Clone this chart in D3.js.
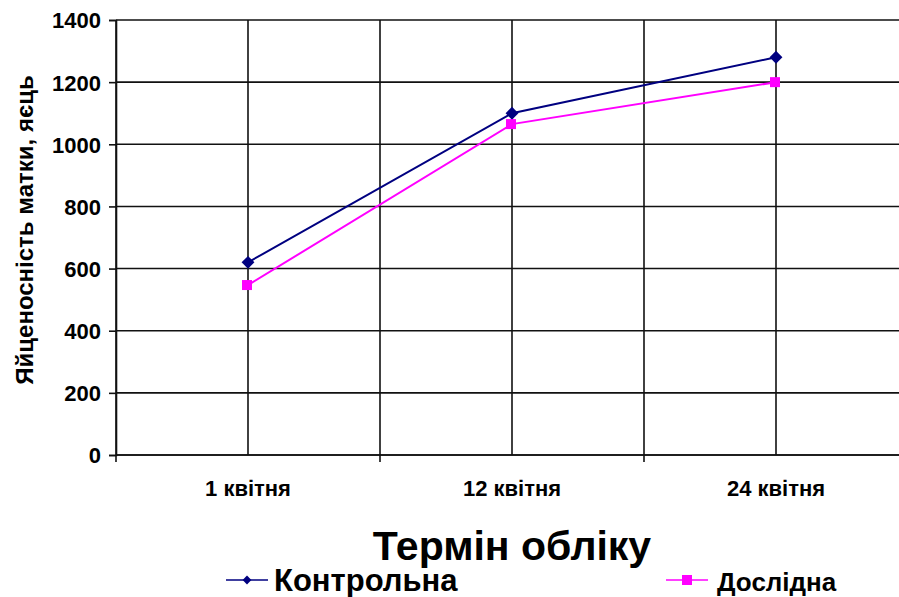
<!DOCTYPE html>
<html>
<head>
<meta charset="utf-8">
<script src="https://cdn.jsdelivr.net/npm/d3@7"></script>
<style>
  body { margin: 0; background: #fff; }
  svg { font-family: Arial, "Liberation Sans", sans-serif; font-weight: bold; }
</style>
</head>
<body>
<div id="chart"></div>
<script>
// Data
var categories = ["1 квітня", "12 квітня", "24 квітня"];
var controlValues = [620, 1100, 1280];
var testValues = [547, 1065, 1200];
var seriesNames = ["Контрольна", "Дослідна"];
var yTicks = [0, 200, 400, 600, 800, 1000, 1200, 1400];

// SVG Dimensions
var svgWidth = 899;
var svgHeight = 597;

var margin = { top: 20, left: 116 };
var plotWidth = 792;   // runs past the right edge, like the original
var plotHeight = 435;

var svg = d3.select("#chart")
    .append("svg")
    .attr("width", svgWidth)
    .attr("height", svgHeight);

var chartGroup = svg.append("g")
    .attr("transform", `translate(${margin.left}, ${margin.top})`);

// Scales
var xScale = d3.scaleBand()
    .domain(categories)
    .range([0, plotWidth]);

var yScale = d3.scaleLinear()
    .domain([0, 1400])
    .range([plotHeight, 0]);

// horizontal gridlines
chartGroup.selectAll(".hgrid")
    .data(yTicks)
    .enter()
    .append("line")
    .attr("x1", 0)
    .attr("x2", plotWidth)
    .attr("y1", d => yScale(d))
    .attr("y2", d => yScale(d))
    .attr("stroke", "#111")
    .attr("stroke-width", 1.6);

// vertical gridlines at category centres and boundaries
var vgrid = [];
categories.forEach(function(c) {
    vgrid.push(xScale(c));
    vgrid.push(xScale(c) + xScale.bandwidth() / 2);
});
vgrid.push(plotWidth);

chartGroup.selectAll(".vgrid")
    .data(vgrid)
    .enter()
    .append("line")
    .attr("x1", d => d)
    .attr("x2", d => d)
    .attr("y1", 0)
    .attr("y2", plotHeight)
    .attr("stroke", "#111")
    .attr("stroke-width", 1.6);

// Axes
var yAxis = d3.axisLeft(yScale)
    .tickValues(yTicks)
    .tickFormat(d3.format("d"))
    .tickSize(7)
    .tickPadding(8);
var yAxisGroup = chartGroup.append("g").call(yAxis);
yAxisGroup.select(".domain").attr("stroke", "#111").attr("stroke-width", 1.6);
yAxisGroup.selectAll(".tick line").attr("stroke", "#111").attr("stroke-width", 1.6);
yAxisGroup.selectAll(".tick text")
    .attr("font-size", 22)
    .attr("font-family", "Arial, 'Liberation Sans', sans-serif")
    .attr("font-weight", "bold")
    .attr("fill", "#000")
    .attr("dy", "0.36em");

// x axis: ticks at category boundaries, labels at centres
var xAxisGroup = chartGroup.append("g")
    .attr("transform", `translate(0, ${plotHeight})`);
xAxisGroup.append("line")
    .attr("x1", 0).attr("x2", plotWidth)
    .attr("stroke", "#111").attr("stroke-width", 1.6);
xAxisGroup.selectAll(".xtick")
    .data(categories)
    .enter()
    .append("line")
    .attr("x1", d => xScale(d))
    .attr("x2", d => xScale(d))
    .attr("y1", 0)
    .attr("y2", 7)
    .attr("stroke", "#111")
    .attr("stroke-width", 1.6);
xAxisGroup.selectAll(".xlabel")
    .data(categories)
    .enter()
    .append("text")
    .attr("x", d => xScale(d) + xScale.bandwidth() / 2)
    .attr("y", 41)
    .attr("text-anchor", "middle")
    .attr("font-size", 22)
    .text(d => d);

// Axis titles
svg.append("text")
    .attr("x", 512)
    .attr("y", 560)
    .attr("text-anchor", "middle")
    .attr("font-size", 41)
    .text("Термін обліку");

svg.append("text")
    .attr("transform", "translate(33, 230) rotate(-90)")
    .attr("text-anchor", "middle")
    .attr("font-size", 24)
    .text("Яйценосність матки, яєць");

// Lines
var xPos = (d, i) => xScale(categories[i]) + xScale.bandwidth() / 2;
var line = d3.line()
    .x(xPos)
    .y(d => yScale(d));

chartGroup.append("path")
    .datum(controlValues)
    .attr("d", line)
    .attr("fill", "none")
    .attr("stroke", "#000080")
    .attr("stroke-width", 2);

chartGroup.append("path")
    .datum(testValues)
    .attr("d", line)
    .attr("fill", "none")
    .attr("stroke", "#ff00ff")
    .attr("stroke-width", 2);

// Markers
var diamond = d3.symbol().type(d3.symbolDiamond2).size(105);
chartGroup.selectAll(".ctrlPoint")
    .data(controlValues)
    .enter()
    .append("path")
    .attr("d", diamond)
    .attr("transform", (d, i) => `translate(${xPos(d, i)}, ${yScale(d)})`)
    .attr("fill", "#000080");

chartGroup.selectAll(".testPoint")
    .data(testValues)
    .enter()
    .append("rect")
    .attr("x", (d, i) => xPos(d, i) - 6)
    .attr("y", d => yScale(d) - 5)
    .attr("width", 10)
    .attr("height", 10)
    .attr("fill", "#ff00ff");

// Legend
var legendColors = ["#000080", "#ff00ff"];
var legendX = [226, 666];
var legendFont = [31, 26];
var legend = svg.selectAll(".legend")
    .data(seriesNames)
    .enter()
    .append("g")
    .attr("transform", (d, i) => `translate(${legendX[i]}, 580)`);

legend.append("line")
    .attr("x1", 0).attr("x2", 42)
    .attr("stroke", (d, i) => legendColors[i])
    .attr("stroke-width", 1.5);

legend.filter((d, i) => i === 0)
    .append("path")
    .attr("d", d3.symbol().type(d3.symbolDiamond2).size(50))
    .attr("transform", "translate(21, 0)")
    .attr("fill", legendColors[0]);

legend.filter((d, i) => i === 1)
    .append("rect")
    .attr("x", 16).attr("y", -5)
    .attr("width", 10).attr("height", 10)
    .attr("fill", legendColors[1]);

legend.append("text")
    .attr("x", (d, i) => i === 0 ? 48 : 51)
    .attr("y", 11)
    .attr("font-size", (d, i) => legendFont[i])
    .text(d => d);
</script>
</body>
</html>
